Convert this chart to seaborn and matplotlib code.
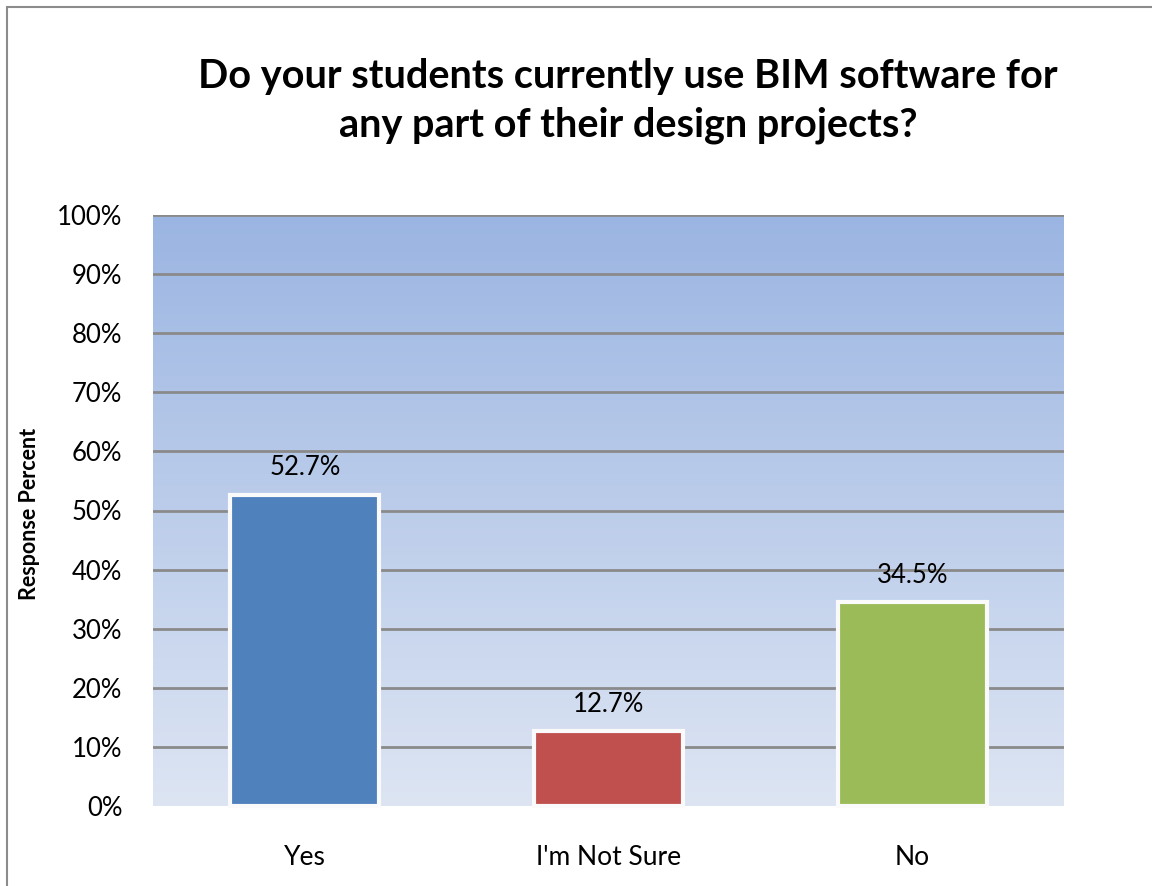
import matplotlib
matplotlib.use("Agg")
import matplotlib.pyplot as plt
import seaborn as sns
import numpy as np
import pandas as pd
from matplotlib.patches import Rectangle
from matplotlib.colors import LinearSegmentedColormap

categories = ["Yes", "I'm Not Sure", "No"]
values = [52.7, 12.7, 34.5]
bar_colors = ["#4F81BD", "#C0504D", "#9BBB59"]
yticks = [0, 10, 20, 30, 40, 50, 60, 70, 80, 90, 100]
title = "Do your students currently use BIM software for\nany part of their design projects?"
ylabel = "Response Percent"

sns.set_theme(style="white")
plt.rcParams['font.family'] = ['Lato', 'DejaVu Sans']
plt.rcParams['text.color'] = 'black'
plt.rcParams['xtick.color'] = 'black'
plt.rcParams['ytick.color'] = 'black'

fig = plt.figure(figsize=(11.52, 8.86), dpi=100)
fig.patch.set_facecolor("white")
fig.patches.append(Rectangle((7/1152, -0.1), 1.2, (886-7)/886 + 0.1, transform=fig.transFigure,
                             fill=False, edgecolor="#8c8c8c", linewidth=1.5))

ax = fig.add_axes([153/1152, 80/886, (1064-153)/1152, (806-215)/886])

df = pd.DataFrame({"cat": categories, "val": values})
cmap = LinearSegmentedColormap.from_list("bg", ["#DDE5F3", "#9BB5E2"])
grad = np.linspace(0, 1, 256).reshape(-1, 1)
ax.imshow(grad, cmap=cmap, aspect="auto", extent=[0, 1, 0, 1], origin="lower",
          transform=ax.transAxes, zorder=0)

sns.barplot(data=df, x="cat", y="val", hue="cat", palette=bar_colors, legend=False,
            width=0.49, ax=ax, edgecolor="#FAFAFA", linewidth=3, zorder=3, saturation=1)
for p in ax.patches:
    p.set_clip_on(False)

ax.set_ylim(0, 100)
ax.set_xlim(-0.5, 2.5)
ax.set_yticks(yticks)
ax.set_yticklabels([f"{t}%" for t in yticks], fontsize=18.5)
ax.tick_params(axis="x", labelsize=19, pad=28, length=0)
ax.tick_params(axis="y", pad=22, length=0)
for t in yticks[1:]:
    ax.axhline(t, color="#8a8a8a", linewidth=2, zorder=2)

for s in ax.spines.values():
    s.set_visible(False)

for i, v in enumerate(values):
    ax.text(i, v + 4.5, f"{v}%", ha="center", va="center", fontsize=18.5, color="black", zorder=4)

ax.set_xlabel("")
ax.set_ylabel("")
fig.text(30/1152, (886-514)/886, ylabel, rotation=90, ha="center", va="center",
         fontsize=15.5, fontweight="bold")
fig.text(628/1152, (886-101)/886, title, ha="center", va="center", fontsize=28.5,
         fontweight="bold", linespacing=1.4)

fig.savefig("out.png", dpi=100, facecolor="white")
